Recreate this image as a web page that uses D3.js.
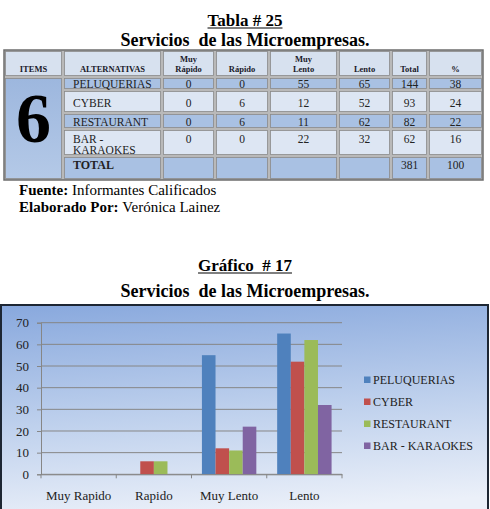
<!DOCTYPE html>
<html>
<head>
<meta charset="utf-8">
<script src="https://cdn.jsdelivr.net/npm/d3@7"></script>
<style>
    body { margin: 0; background: #ffffff; }
    svg { display: block; }
</style>
</head>
<body>
<div id="chart"></div>
<script>

// datos de la tabla # 25
let alternativas = ["PELUQUERIAS", "CYBER", "RESTAURANT", "BAR - KARAOKES"];
let categorias = ["Muy Rapido", "Rapido", "Muy Lento", "Lento"];
let muyRapido = [0, 0, 0, 0];
let rapido = [0, 6, 6, 0];
let muyLento = [55, 12, 11, 22];
let lento = [65, 52, 62, 32];
let totales = [144, 93, 82, 62];
let porcentajes = [38, 24, 22, 16];
let totalGeneral = [381, 100];
let itemNumero = "6";
let encabezados = ["ITEMS", "ALTERNATIVAS", "Muy|Rápido", "Rápido", "Muy|Lento", "Lento", "Total", "%"];
let yTicks = [0, 10, 20, 30, 40, 50, 60, 70];
let colores = ["#4f81bd", "#c0504d", "#9bbb59", "#8064a2"];

var serif = "'Liberation Serif', 'Times New Roman', serif";

var svg = d3.select("#chart").append("svg")
    .attr("width", 490)
    .attr("height", 509);

var defs = svg.append("defs");

//  titulo de la tabla
function titulo (texto, y, size, subrayado)
{
    var t = svg.append("text")
        .attr("x", 245).attr("y", y)
        .attr("text-anchor", "middle")
        .style("font-family", serif)
        .style("font-weight", "bold")
        .style("font-size", size + "px")
        .style("white-space", "pre")
        .text(texto);
    if (subrayado) {
        var w = t.node().getComputedTextLength();
        svg.append("line")
            .attr("x1", 245 - w / 2).attr("x2", 245 + w / 2)
            .attr("y1", y + 2).attr("y2", y + 2)
            .attr("stroke", "#000").attr("stroke-width", 1.2);
    }
}

titulo("Tabla # 25", 26, 17, true);
titulo("Servicios  de las Microempresas.", 46, 18, false);

// ---------------- tabla ----------------

var colX = [4, 63, 162, 215, 269, 338, 391, 428, 483];
var rowY = [50, 77, 90, 113, 129, 156, 180];

var fillOscuro = "#a9c1e3",
    fillClaro = "#dde6f3",
    fillHeader = "#d7e1ef";

var gItem = defs.append("linearGradient").attr("id", "gItem")
    .attr("x1", 0).attr("y1", 0).attr("x2", 0).attr("y2", 1);
gItem.append("stop").attr("offset", "0%").attr("stop-color", "#9db7de");
gItem.append("stop").attr("offset", "100%").attr("stop-color", "#b4c9e7");

var tabla = svg.append("g");

tabla.append("rect")
    .attr("x", colX[0]).attr("y", rowY[0])
    .attr("width", colX[8] - colX[0]).attr("height", rowY[6] - rowY[0])
    .attr("fill", "#b9b9b9")
    .attr("stroke", "#6d6d6d").attr("stroke-width", 1.5);

function celda (c0, c1, r0, r1, fill)
{
    tabla.append("rect")
        .attr("x", colX[c0] + 1.5).attr("y", rowY[r0] + 1.5)
        .attr("width", colX[c1] - colX[c0] - 3)
        .attr("height", rowY[r1] - rowY[r0] - 3)
        .attr("fill", fill)
        .attr("stroke", "#8a8a8a").attr("stroke-width", 0.8);
}

// encabezado
for (var c = 0; c < 8; c++) {
    celda(c, c + 1, 0, 1, fillHeader);
}
// celda del item
celda(0, 1, 1, 6, "url(#gItem)");

// filas de datos
var filas = alternativas.map(function (d, i) {
    return [muyRapido[i], rapido[i], muyLento[i], lento[i], totales[i], porcentajes[i]];
});
filas.forEach(function (f, i) {
    var fill = (i % 2 == 0) ? fillOscuro : fillClaro;
    for (var c = 1; c < 8; c++) {
        celda(c, c + 1, i + 1, i + 2, fill);
    }
});
for (var c = 1; c < 8; c++) {
    celda(c, c + 1, 5, 6, fillOscuro);
}

// textos del encabezado
encabezados.forEach(function (h, c) {
    var lineas = h.split("|");
    var cx = (colX[c] + colX[c + 1]) / 2;
    lineas.forEach(function (l, k) {
        tabla.append("text")
            .attr("x", cx)
            .attr("y", 72 - (lineas.length - 1 - k) * 10)
            .attr("text-anchor", "middle")
            .style("font-family", serif)
            .style("font-weight", "bold")
            .style("font-size", "8.5px")
            .style("fill", "#1a1a2a")
            .text(l);
    });
});

// el numero grande
tabla.append("text")
    .attr("x", (colX[0] + colX[1]) / 2).attr("y", 142)
    .attr("text-anchor", "middle")
    .style("font-family", serif)
    .style("font-weight", "bold")
    .style("font-size", "70px")
    .text(itemNumero);

var baseFila = [88, 107, 126, 143];
var txtSize = "11.5px";

alternativas.forEach(function (a, i) {
    var partes = (a == "BAR - KARAOKES") ? ["BAR -", "KARAOKES"] : [a];
    partes.forEach(function (p, k) {
        tabla.append("text")
            .attr("x", colX[1] + 10).attr("y", baseFila[i] + k * 11)
            .style("font-family", serif)
            .style("font-size", txtSize)
            .style("fill", "#222")
            .text(p);
    });
    filas[i].forEach(function (v, j) {
        tabla.append("text")
            .attr("x", (colX[j + 2] + colX[j + 3]) / 2).attr("y", baseFila[i])
            .attr("text-anchor", "middle")
            .style("font-family", serif)
            .style("font-size", txtSize)
            .style("fill", "#222")
            .text(v);
    });
});

// fila total
tabla.append("text")
    .attr("x", colX[1] + 10).attr("y", 169)
    .style("font-family", serif)
    .style("font-weight", "bold")
    .style("font-size", "12px")
    .style("fill", "#222")
    .text("TOTAL");
totalGeneral.forEach(function (v, j) {
    tabla.append("text")
        .attr("x", (colX[j + 6] + colX[j + 7]) / 2).attr("y", 169)
        .attr("text-anchor", "middle")
        .style("font-family", serif)
        .style("font-size", txtSize)
        .style("fill", "#222")
        .text(v);
});

// fuente
function nota (negrita, resto, y)
{
    var t = svg.append("text")
        .attr("x", 19).attr("y", y)
        .style("font-family", serif)
        .style("font-size", "15px");
    t.append("tspan").style("font-weight", "bold").text(negrita);
    t.append("tspan").text(resto);
}
nota("Fuente: ", "Informantes Calificados", 195);
nota("Elaborado Por: ", "Verónica Lainez", 212);

// ---------------- grafico ----------------

titulo("Gráfico  # 17", 271, 17, true);
titulo("Servicios  de las Microempresas.", 297, 18, false);

var gFondo = defs.append("linearGradient").attr("id", "gFondo")
    .attr("x1", 0).attr("y1", 0).attr("x2", 0.15).attr("y2", 1);
gFondo.append("stop").attr("offset", "0%").attr("stop-color", "#88a8dd");
gFondo.append("stop").attr("offset", "55%").attr("stop-color", "#bfd1ed");
gFondo.append("stop").attr("offset", "100%").attr("stop-color", "#ebf0f9");

svg.append("rect")
    .attr("x", 1).attr("y", 305)
    .attr("width", 487).attr("height", 220)
    .attr("fill", "url(#gFondo)")
    .attr("stroke", "#1d2633").attr("stroke-width", 2);

var plot = { left: 41, right: 342, top: 322.7, bottom: 474.3 };

var x0 = d3.scaleBand()
    .domain(categorias)
    .range([plot.left, plot.right])
    .paddingInner(0.277)
    .paddingOuter(0.1385);

var x1 = d3.scaleBand()
    .domain(alternativas)
    .range([0, x0.bandwidth()]);

var y = d3.scaleLinear()
    .domain([0, 70])
    .range([plot.bottom, plot.top]);

// lineas de division
svg.append("g")
    .selectAll("line").data(yTicks).enter().append("line")
    .attr("x1", plot.left).attr("x2", plot.right)
    .attr("y1", function (d) { return y(d); })
    .attr("y2", function (d) { return y(d); })
    .attr("stroke", "#868686").attr("stroke-width", 1);

// eje y
var ejeY = svg.append("g")
    .attr("transform", "translate(" + plot.left + ",0)")
    .call(d3.axisLeft(y).tickValues(yTicks).tickSize(4).tickPadding(8));
ejeY.select(".domain").attr("stroke", "#868686");
ejeY.selectAll(".tick line").attr("stroke", "#868686");
ejeY.selectAll("text")
    .style("font-family", serif)
    .style("font-size", "13px")
    .style("fill", "#222");

// barras
var series = [muyRapido, rapido, muyLento, lento];
var grupos = svg.append("g")
    .selectAll("g").data(categorias).enter().append("g")
    .attr("transform", function (d) { return "translate(" + x0(d) + ",0)"; });

grupos.selectAll("rect")
    .data(function (d, i) {
        return alternativas.map(function (a, k) {
            return { alt: a, valor: series[i][k], color: colores[k] };
        });
    })
    .enter().append("rect")
    .attr("x", function (d) { return x1(d.alt); })
    .attr("width", x1.bandwidth())
    .attr("y", function (d) { return y(d.valor); })
    .attr("height", function (d) { return y(0) - y(d.valor); })
    .attr("fill", function (d) { return d.color; });

// eje x
var ejeX = svg.append("g")
    .attr("transform", "translate(0," + plot.bottom + ")")
    .call(d3.axisBottom(x0).tickSize(0).tickPadding(16.5));
ejeX.select(".domain").attr("stroke", "#868686");
ejeX.selectAll("text")
    .style("font-family", serif)
    .style("font-size", "13px")
    .style("fill", "#222");

// marcas entre categorias
var limites = [plot.left].concat(categorias.map(function (d) { return x0(d) - x0.step() * x0.paddingInner() / 2 + x0.step(); }));
ejeX.selectAll(".limite").data(limites).enter().append("line")
    .attr("class", "limite")
    .attr("x1", function (d) { return d; }).attr("x2", function (d) { return d; })
    .attr("y1", 0).attr("y2", 4)
    .attr("stroke", "#868686");

// leyenda
var leyenda = svg.append("g")
    .selectAll("g").data(alternativas).enter().append("g")
    .attr("transform", function (d, i) { return "translate(364," + (380 + i * 22) + ")"; });
leyenda.append("rect")
    .attr("x", 0).attr("y", -3.5)
    .attr("width", 6.5).attr("height", 6.5)
    .attr("fill", function (d, i) { return colores[i]; });
leyenda.append("text")
    .attr("x", 9).attr("y", 4.3)
    .style("font-family", serif)
    .style("font-size", "12px")
    .style("fill", "#222")
    .text(function (d) { return d; });

</script>
</body>
</html>
